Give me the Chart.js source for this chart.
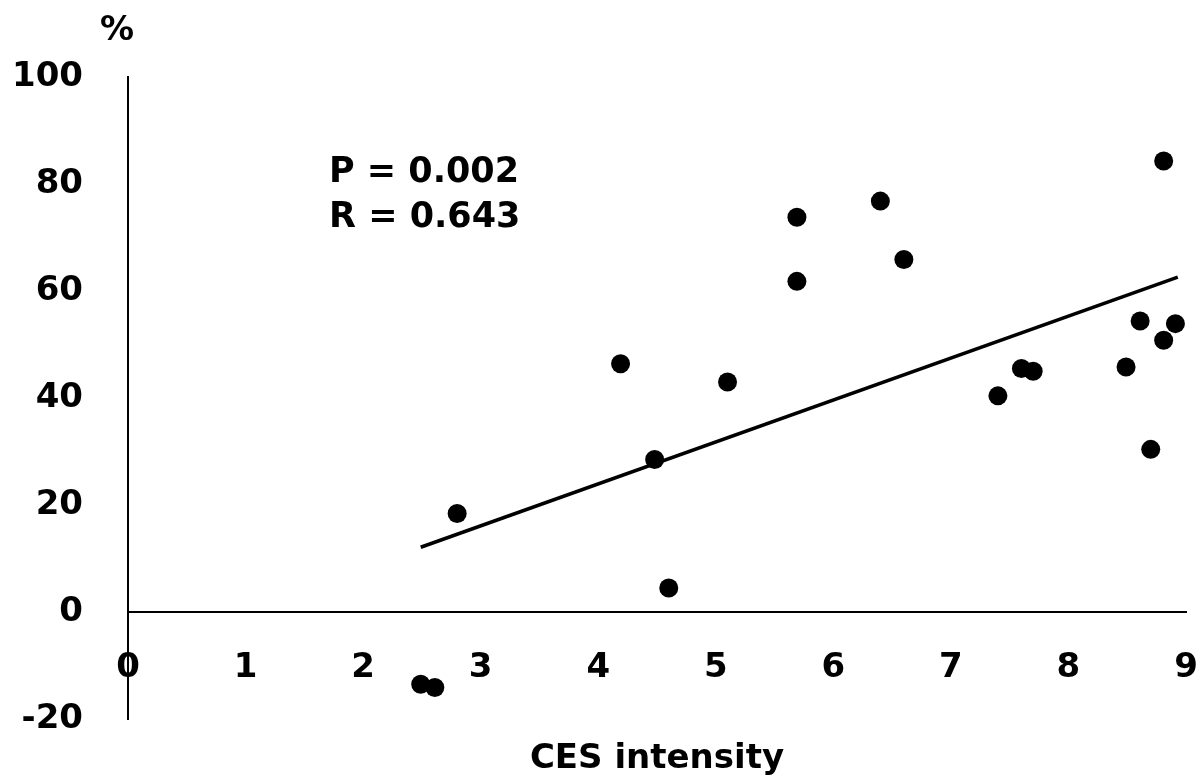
<!DOCTYPE html>
<html>
<head>
<meta charset="utf-8">
<script src="https://cdn.jsdelivr.net/npm/chart.js@4/dist/chart.umd.min.js"></script>
<style>
  html, body { margin: 0; padding: 0; background: #fff; }
  #wrap { width: 1200px; height: 783px; position: relative; }
</style>
</head>
<body>
<div id="wrap"><canvas id="c" width="1200" height="783"></canvas></div>
<script>
// ---- data ----
const cesX = [2.49, 2.61, 2.80, 4.19, 4.48, 4.60, 5.10, 5.69, 5.69, 6.40, 6.60, 7.40, 7.60, 7.70, 8.49, 8.61, 8.70, 8.81, 8.81, 8.91];
const pctY = [-13.5, -14.1, 18.4, 46.4, 28.5, 4.5, 43.0, 73.8, 61.8, 76.8, 65.9, 40.4, 45.5, 45.0, 45.8, 54.4, 30.4, 50.8, 84.3, 53.9];
const trendX = [2.49, 8.93];
const trendY = [12.1, 62.6];
const xTicks = [0, 1, 2, 3, 4, 5, 6, 7, 8, 9];
const yTicks = [-20, 0, 20, 40, 60, 80, 100];
const xTitle = 'CES intensity';
const yUnit = '%';
const statsText = ['P = 0.002', 'R = 0.643'];

const FONT = 'DejaVu Sans';

const textPlugin = {
  id: 'texts',
  afterDraw(chart) {
    const ctx = chart.ctx;
    const ca = chart.chartArea;
    ctx.save();
    ctx.fillStyle = '#000';
    ctx.font = 'bold 34px "' + FONT + '"';
    ctx.textAlign = 'center';
    ctx.textBaseline = 'alphabetic';
    ctx.fillText(xTitle, (ca.left + ca.right) / 2, 768);
    ctx.font = 'bold 34px "' + FONT + '"';
    ctx.fillText(yUnit, 117, 40);
    ctx.font = 'bold 35px "' + FONT + '"';
    ctx.textAlign = 'left';
    ctx.fillText(statsText[0], 329, 182);
    ctx.fillText(statsText[1], 329, 227);
    ctx.restore();
  }
};

new Chart(document.getElementById('c'), {
  type: 'scatter',
  data: {
    datasets: [
      {
        label: 'data',
        data: cesX.map((x, i) => ({ x: x, y: pctY[i] })),
        backgroundColor: '#000',
        borderColor: '#000',
        borderWidth: 0,
        pointRadius: 9.5,
        pointHoverRadius: 9.5
      },
      {
        label: 'trend',
        data: trendX.map((x, i) => ({ x: x, y: trendY[i] })),
        showLine: true,
        borderColor: '#000',
        borderWidth: 3.5,
        pointRadius: 0,
        fill: false
      }
    ]
  },
  options: {
    responsive: false,
    animation: false,
    events: [],
    layout: { padding: { top: 77, right: 14, bottom: 64, left: 0 } },
    plugins: { legend: { display: false }, tooltip: { enabled: false } },
    scales: {
      x: {
        type: 'linear',
        position: { y: 0 },
        min: 0, max: 9,
        afterBuildTicks: (s) => { s.ticks = xTicks.map(v => ({ value: v })); },
        afterFit: (s) => { s.paddingLeft = 0; s.paddingRight = 0; },
        grid: { display: false, drawTicks: false },
        border: { display: true, color: '#000', width: 2 },
        ticks: { color: '#000', padding: 36, font: { family: FONT, size: 34, weight: 'bold' }, maxRotation: 0, autoSkip: false }
      },
      y: {
        type: 'linear',
        position: 'left',
        min: -20, max: 100,
        afterBuildTicks: (s) => { s.ticks = yTicks.map(v => ({ value: v })); },
        afterFit: (s) => { s.width = 128; s.paddingTop = 0; s.paddingBottom = 0; },
        grid: { display: false, drawTicks: false },
        border: { display: true, color: '#000', width: 2 },
        ticks: { color: '#000', padding: 45, font: { family: FONT, size: 34, weight: 'bold' } }
      }
    }
  },
  plugins: [textPlugin]
});
</script>
</body>
</html>
